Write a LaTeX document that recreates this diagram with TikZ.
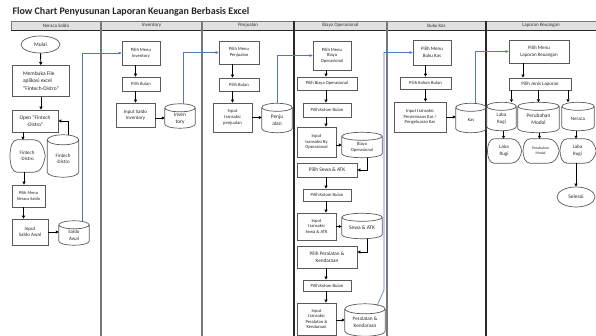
\documentclass[tikz,border=0pt]{standalone}
\usepackage{fontspec}
\setmainfont{Carlito}
\usetikzlibrary{shapes.geometric,arrows.meta,calc}
\definecolor{boxc}{RGB}{90,90,90}
\definecolor{lanec}{RGB}{120,120,120}
\definecolor{laned}{RGB}{40,40,40}
\definecolor{blueline}{RGB}{80,120,190}
\definecolor{headfill}{RGB}{225,225,225}
\newcommand\ct[2][2.5pt]{\raisebox{-#1}[\height][\depth]{\begin{tabular}{@{}c@{}}#2\end{tabular}}}
\newcommand\cylout[2][3]{%
 \draw[boxline] let \p1=(#2.north west), \p2=(#2.south east) in
   ({\x1},{\y1-#1pt}) -- ({\x1},{\y2+#1pt})
   arc[start angle=180,end angle=360,x radius={(\x2-\x1)/2},y radius=#1pt]
   -- ({\x2},{\y1-#1pt})
   ({\x1},{\y1-#1pt})
   arc[start angle=180,end angle=-180,x radius={(\x2-\x1)/2},y radius=#1pt];}
\newcommand\dispout[1]{%
 \draw[boxline] let \p1=(#1.north west), \p2=(#1.south east) in
   ({\x1+0.22*(\x2-\x1)},{\y1}) -- ({\x2-0.3*(\x2-\x1)},{\y1})
   .. controls ({\x2-0.12*(\x2-\x1)},{\y1}) and ({\x2-0.03*(\x2-\x1)},{\y1-0.25*(\y1-\y2)}) ..
   ({\x2},{(\y1+\y2)/2})
   .. controls ({\x2-0.03*(\x2-\x1)},{\y2+0.25*(\y1-\y2)}) and ({\x2-0.12*(\x2-\x1)},{\y2}) ..
   ({\x2-0.3*(\x2-\x1)},{\y2}) -- ({\x1+0.22*(\x2-\x1)},{\y2})
   .. controls ({\x1-0.03*(\x2-\x1)},{\y2}) and ({\x1-0.03*(\x2-\x1)},{\y1}) .. cycle;}
\begin{document}
\begin{tikzpicture}[x=1pt,y=-1pt,
  every node/.style={font=\fontsize{4.6}{5.6}\selectfont, text=black!85},
  boxline/.style={draw=boxc, line width=0.7pt},
  box/.style n args={2}{rectangle, boxline, fill=white, inner sep=0.3pt, align=center, minimum width=#1, minimum height=#2},
  cyln/.style n args={2}{rectangle, inner sep=0pt, align=center, minimum width=#1, minimum height=#2},
  term/.style n args={2}{ellipse, boxline, fill=white, inner sep=0pt, minimum width=#1, minimum height=#2},
  arr/.style={-{Triangle[length=3pt,width=3pt]}, line width=0.9pt, black},
  bl/.style={-{Triangle[length=3pt,width=2.6pt]}, line width=0.6pt, blueline},
  lane/.style={draw=lanec, line width=1.1pt},
  laneD/.style={draw=laned, line width=1.2pt},
  head/.style={font=\fontsize{5}{6}\selectfont, text=black!80}]
\useasboundingbox (0,0) rectangle (596,336);
% title and header
\node[anchor=west, font=\fontsize{10}{12}\bfseries\selectfont, text=black!85] (title) at (9,12) {Flow Chart Penyusunan Laporan Keuangan Berbasis Excel};
\path[fill=headfill, draw=lanec, line width=0.6pt] (11,21) rectangle (596,30);
\draw[laned, line width=0.9pt] (11,30) -- (596,30);
\foreach \xx in {101,202,387} \draw[lane] (\xx,21) -- (\xx,336);
\foreach \xx in {294,486} \draw[laneD] (\xx,21) -- (\xx,336);
\node[head] (h1) at (56,25.5) {Neraca Saldo};
\node[head] (h2) at (151.5,25.5) {Inventory};
\node[head] (h3) at (248,25.5) {Penjualan};
\node[head] (h4) at (340.5,25.5) {Biaya Operasional};
\node[head] (h5) at (436.5,25.5) {Buku Kas};
\node[head] (h6) at (541,25.5) {Laporan Keuangan};
% lane 1
\node[term={39}{17}, font=\fontsize{5.5}{6.5}\selectfont] (mulai) at (40.5,44.5) {Mulai};
\node[box={57}{31}, align=left, font=\fontsize{5.5}{7.6}\selectfont] (buka) at (41,81) {Membuka File\\aplikasi excel\\"Fintech-Distro"};
\node[box={46}{22}, font=\fontsize{5.3}{7}\selectfont] (open) at (35,121) {Open "Fintech\\-Distro"};
\node[cyln={36}{32}, font=\fontsize{5}{6.5}\selectfont] (disp1) at (27,156) {Fintech\\-Distro};
\node[cyln={31}{42}, font=\fontsize{5}{6.5}\selectfont] (cyl1) at (63,156) {\ct[3pt]{Fintech\\-Distro}};
\node[box={33}{22}, font=\fontsize{4.4}{6}\selectfont] (pmns) at (28.5,196) {Pilih Menu\\Neraca Saldo};
\node[box={36}{26}, font=\fontsize{5}{6.5}\selectfont] (isa) at (30,232) {Input\\Saldo Awal};
\node[cyln={30}{24}, font=\fontsize{5}{6.5}\selectfont] (cylsa) at (74,233) {\ct{Saldo\\Awal}};
\dispout{disp1}
\cylout[5]{cyl1}
\cylout[4]{cylsa}
% lane 2
\node[box={38}{24}] (pmi) at (141,53) {Pilih Menu\\Inventory};
\node[box={38}{14}] (pbi) at (141,84) {Pilih Bulan};
\node[box={39}{24}, font=\fontsize{5}{6.2}\selectfont] (isi) at (135.5,115) {Input Saldo\\Inventory};
\node[cyln={30}{24}, font=\fontsize{5.4}{7}\selectfont] (cyli) at (180,116) {\ct{Inven\\tory}};
\cylout[4]{cyli}
% lane 3
\node[box={40}{23}] (pmp) at (239,52.5) {Pilih Menu\\Penjualan};
\node[box={40}{13}] (pbp) at (239,84.5) {Pilih Bulan};
\node[box={39}{29}] (itp) at (232.5,117.5) {Input\\transaksi\\penjualan};
\node[cyln={30}{29}, font=\fontsize{5.4}{7}\selectfont] (cylp) at (277,118) {\ct{Penju\\alan}};
\cylout[4]{cylp}
% lane 4
\coordinate (c4) at (326,0);
\node[box={38}{29}] (pmb) at (332,55.5) {Pilih Menu\\Biaya\\Operasional};
\node[box={60}{13}] (pbo) at (327,83.5) {Pilih Biaya Operasional};
\node[box={48}{14}] (pkb1) at (327,110) {Pilih Kolom Bulan};
\node[box={39}{30}] (itb) at (316.5,142) {Input\\transaksi By\\Operasional};
\node[cyln={40}{25}] (cylb) at (362,145) {\ct{Biaya\\Operasional}};
\node[box={60}{14}, font=\fontsize{5.4}{6.5}\selectfont] (psa) at (327,170) {Pilih Sewa \& ATK};
\node[box={48}{12}] (pkb2) at (327,195) {Pilih Kolom Bulan};
\node[box={39}{27}] (its) at (316.5,226.5) {Input\\transaksi\\Sewa \& ATK};
\node[cyln={40}{25}, font=\fontsize{5.4}{6.5}\selectfont] (cyls) at (362,226) {\ct{Sewa \& ATK}};
\node[box={60}{22}, font=\fontsize{5.2}{7}\selectfont] (ppk) at (327,257) {Pilih Peralatan \&\\Kendaraan};
\node[box={48}{11}] (pkb3) at (327,285.5) {Pilih Kolom Bulan};
\node[box={39}{32}] (itk) at (316.5,319) {Input\\transaksi\\Peralatan \&\\Kendaraan};
\node[cyln={40}{32}, font=\fontsize{5.2}{7}\selectfont] (cylk) at (365,320) {\ct[3pt]{Peralatan \&\\Kendaraan}};
\cylout[4]{cylb}
\cylout[4]{cyls}
\cylout[5]{cylk}
% lane 5
\node[box={38}{25}, font=\fontsize{5}{6.5}\selectfont] (pmk) at (432,52.5) {Pilih Menu\\Buku Kas};
\node[box={51}{12}] (pkk) at (425.5,83) {Pilih Kolom Bulan};
\node[box={52}{30}] (itkas) at (420,117) {Input transaksi\\Penerimaan Kas /\\Pengeluaran Kas};
\node[cyln={30}{29}] (cylkas) at (471,118) {\ct{Kas}};
\cylout[4]{cylkas}
% lane 6
\node[box={60}{23}, font=\fontsize{5}{6.5}\selectfont] (pml) at (539,51.5) {Pilih Menu\\Laporan Keuangan};
\node[box={62}{12}, font=\fontsize{5}{6}\selectfont] (pjl) at (540,84) {Pilih Jenis Laporan};
\node[cyln={29}{28}, font=\fontsize{5}{7}\selectfont] (cyllr) at (501.5,116.5) {\ct{Laba\\Rugi}};
\node[cyln={41}{30}, font=\fontsize{5.4}{7}\selectfont] (cylpm) at (538.5,117.5) {\ct{Perubahan\\Modal}};
\node[cyln={32}{28}, font=\fontsize{5}{7}\selectfont] (cylnr) at (578,116.5) {\ct{Neraca}};
\node[cyln={35}{24}, font=\fontsize{5}{7}\selectfont] (dlr) at (504,151) {Laba\\Rugi};
\node[cyln={37}{24}, font=\fontsize{3.8}{5}\selectfont] (dpm) at (540.5,151) {Perubahan\\Modal};
\node[cyln={37}{24}, font=\fontsize{5}{7}\selectfont] (dnr) at (577.5,151) {Laba\\Rugi};
\node[term={38}{20}, font=\fontsize{5.4}{6.5}\selectfont] (sel) at (576,197) {Selesai};
\cylout[4]{cyllr}
\cylout[4]{cylpm}
\cylout[4]{cylnr}
\dispout{dlr}
\dispout{dpm}
\dispout{dnr}
% connectors lane 1
\draw[arr] (mulai) -- (buka);
\draw[arr] (buka.south) -- (buka.south |- open.north);
\draw[arr] ([xshift=-12pt]open.south) -- ([xshift=-12pt]open.south |- disp1.north);
\draw[arr] ([xshift=-3pt]disp1.south) -- ([xshift=-3pt]disp1.south |- pmns.north);
\draw[arr] ([xshift=-5pt]pmns.south) -- ([xshift=-5pt]pmns.south |- isa.north);
\draw[arr] ([xshift=5pt]cyl1.north) |- (open.east);
\draw[arr] (isa.east) -- (isa.east -| cylsa.west);
\draw[bl] ([xshift=8pt]cylsa.north) |- (pmi.west);
% lane 2
\draw[arr] (pmi.south -| isi) -- (pbi.north -| isi);
\draw[arr] (pbi.south -| isi) -- (isi.north);
\draw[arr] ([yshift=-3pt]isi.east) -- ([yshift=-3pt]isi.east -| cyli.west);
\draw[bl] ([xshift=3pt]cyli.north) |- (pmp.west);
% lane 3
\draw[arr] (pmp.south -| itp) -- (pbp.north -| itp);
\draw[arr] (pbp.south -| itp) -- (itp.north);
\draw[arr] (itp.east) -- (itp.east -| cylp.west);
\draw[bl] (cylp.north) |- (pmb.west);
% lane 4
\draw[arr] (pmb.south -| c4) -- (pbo.north -| c4);
\draw[arr] (pbo.south -| c4) -- (pkb1.north -| c4);
\draw[arr] (pkb1.south -| c4) -- (itb.north -| c4);
\draw[arr] (itb.east |- cylb) -- (cylb.west);
\draw[arr] ([xshift=5pt]cylb.south) |- (psa.east);
\draw[arr] (psa.south -| c4) -- (pkb2.north -| c4);
\draw[arr] (pkb2.south -| c4) -- (its.north -| c4);
\draw[arr] (its.east) -- (its.east -| cyls.west);
\draw[arr] ([xshift=5pt]cyls.south) |- ([yshift=5pt]ppk.east);
\draw[arr] (ppk.south -| c4) -- (pkb3.north -| c4);
\draw[arr] (pkb3.south -| c4) -- (itk.north -| c4);
\draw[arr] ([yshift=-1pt]itk.east) -- ([yshift=-1pt]itk.east -| cylk.west);
\coordinate (bk1) at (384,290);
\draw[bl] ([xshift=12pt,yshift=-2pt]cylk.north) -- (bk1) |- (pmk.west);
% lane 5
\draw[arr] (pmk.south -| pkk) -- (pkk.north);
\draw[arr] (pkk.south) -- (pkk.south |- itkas.north);
\draw[arr] (itkas.east) -- (itkas.east -| cylkas.west);
\draw[bl] ([xshift=4pt]cylkas.north) |- (pml.west);
% lane 6
\draw[arr] ([xshift=-16pt]pml.south) -- ([xshift=-16pt]pml.south |- pjl.north);
\draw[arr] ([xshift=10pt]cyllr.north |- pjl.south) -- ([xshift=10pt]cyllr.north);
\draw[arr] (pjl.south -| cylpm) -- (cylpm.north);
\draw[arr] ([xshift=-10pt]cylnr.north |- pjl.south) -- ([xshift=-10pt]cylnr.north);
\draw[arr] ([xshift=2pt]cyllr.south) -- ([xshift=2pt]cyllr.south |- dlr.north);
\draw[arr] ([xshift=1pt]cylpm.south) -- ([xshift=1pt]cylpm.south |- dpm.north);
\draw[arr] ([xshift=-2pt]cylnr.south) -- ([xshift=-2pt]cylnr.south |- dnr.north);
\draw[arr] ([xshift=-1.5pt]dnr.south) -- ([xshift=-1.5pt]dnr.south |- sel.north);
\end{tikzpicture}
\end{document}
